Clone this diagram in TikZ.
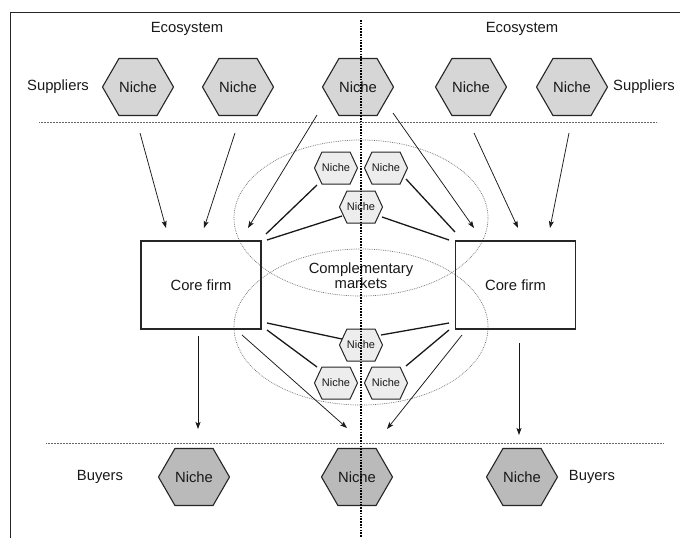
\documentclass[tikz,border=0pt]{standalone}
\usepackage{fontspec}
\setmainfont{Liberation Sans}
\usetikzlibrary{shapes.symbols,arrows.meta}
\begin{document}
\begin{tikzpicture}[x=1pt,y=-1pt,
  hexbase/.style={signal, signal to=east and west, draw=black!85, inner sep=0pt, text=black!90},
  hexbig/.style={hexbase, signal pointer angle=120, line width=1.1pt, minimum width=71pt, minimum height=57pt, font=\fontsize{14.8}{16}\selectfont},
  suphex/.style={hexbig, fill=black!16},
  buyhex/.style={hexbig, fill=black!27},
  hexsmall/.style={hexbase, signal pointer angle=130, line width=1pt, fill=black!7, minimum width=38pt, minimum height=32pt, font=\fontsize{11}{12}\selectfont},
  firmbox/.style={draw=black!85, line width=1.4pt, minimum width=120pt, minimum height=88pt, inner sep=0pt, font=\fontsize{14.8}{16}\selectfont, text=black!90},
  lbl/.style={font=\fontsize{14.8}{16}\selectfont, text=black!90, inner sep=0pt, align=center},
  arr/.style={line width=0.75pt, draw=black!90, -{Stealth[length=7pt,width=5pt,inset=1.5pt]}},
  link/.style={line width=1.3pt, draw=black!90},
  hdot/.style={line width=0.8pt, draw=black!60, dash pattern=on 0.8pt off 0.7pt},
  vdot/.style={line width=1.8pt, draw=black, dash pattern=on 1.5pt off 1.3pt},
  elldot/.style={line width=0.7pt, draw=black!55, dash pattern=on 0.8pt off 1pt}
]
\useasboundingbox (0,0) rectangle (680,538);
\fill[white] (0,0) rectangle (680,538);

% frame
\coordinate (fa) at (10,12);
\coordinate (fb) at (680,12);
\coordinate (fc) at (10,538);
\draw[line width=1pt, black!85] (fb) -- (fa) -- (fc);

% ellipses
\draw[elldot] (361,218) ellipse [x radius=127pt, y radius=78pt];
\draw[elldot] (361,327) ellipse [x radius=127pt, y radius=78pt];

% horizontal dotted lines
\coordinate (h1a) at (39,122); \coordinate (h1b) at (657,122);
\coordinate (h2a) at (46,443); \coordinate (h2b) at (663,443);
\draw[hdot] (h1a) -- (h1b);
\draw[hdot] (h2a) -- (h2b);

% labels
\node[lbl] (eco1) at (187,29) {Ecosystem};
\node[lbl] (eco2) at (522,29) {Ecosystem};
\node[lbl] (sup1) at (58,87) {Suppliers};
\node[lbl] (sup2) at (644,87) {Suppliers};
\node[lbl] (buy1) at (100,477) {Buyers};
\node[lbl] (buy2) at (592,477) {Buyers};
\node[lbl] (comp) at (361,276) {Complementary\\[-1pt]markets};

% supplier niches
\node[suphex] (s1) at (138,87) {Niche};
\node[suphex] (s2) at (238,87) {Niche};
\node[suphex] (s3) at (358,87) {Niche};
\node[suphex] (s4) at (471,87) {Niche};
\node[suphex] (s5) at (572,87) {Niche};

% buyer niches
\node[buyhex] (b1) at (194,477) {Niche};
\node[buyhex] (b2) at (357,477) {Niche};
\node[buyhex] (b3) at (522,477) {Niche};

% complementary niches
\node[hexsmall] (c1) at (336,168) {Niche};
\node[hexsmall] (c2) at (386,168) {Niche};
\node[hexsmall] (c3) at (361,207) {Niche};
\node[hexsmall] (c4) at (361,345) {Niche};
\node[hexsmall] (c5) at (336,383) {Niche};
\node[hexsmall] (c6) at (386,383) {Niche};

% core firms
\node[firmbox] (f1) at (201,285) {Core firm};
\node[firmbox] (f2) at (515.5,285) {Core firm};

% arrow end points
\coordinate (a1s) at (140,133); \coordinate (a1e) at (166,228);
\coordinate (a2s) at (235,133); \coordinate (a2e) at (204,228);
\coordinate (a3s) at (317,115); \coordinate (a3e) at (248,228);
\coordinate (a4s) at (393,113); \coordinate (a4e) at (474,228);
\coordinate (a5s) at (474,133); \coordinate (a5e) at (518,228);
\coordinate (a6s) at (569,133); \coordinate (a6e) at (550,228);
\coordinate (d1s) at (198,336); \coordinate (d1e) at (198,429);
\coordinate (d2s) at (242,335); \coordinate (d2e) at (347,428);
\coordinate (d3s) at (462,335); \coordinate (d3e) at (387,429);
\coordinate (d4s) at (519,343); \coordinate (d4e) at (519,435);

\draw[arr] (a1s) -- (a1e);
\draw[arr] (a2s) -- (a2e);
\draw[arr] (a3s) -- (a3e);
\draw[arr] (a4s) -- (a4e);
\draw[arr] (a5s) -- (a5e);
\draw[arr] (a6s) -- (a6e);
\draw[arr] (d1s) -- (d1e);
\draw[arr] (d2s) -- (d2e);
\draw[arr] (d3s) -- (d3e);
\draw[arr] (d4s) -- (d4e);

% links
\coordinate (l1s) at (317,185); \coordinate (l1e) at (266,234);
\coordinate (l2s) at (342,216); \coordinate (l2e) at (267,240);
\coordinate (l3s) at (406,179); \coordinate (l3e) at (455,232);
\coordinate (l4s) at (382,217); \coordinate (l4e) at (449,240);
\coordinate (l5s) at (267,323); \coordinate (l5e) at (342,339);
\coordinate (l6s) at (267,330); \coordinate (l6e) at (317,367);
\coordinate (l7s) at (381,335); \coordinate (l7e) at (449,323);
\coordinate (l8s) at (406,366); \coordinate (l8e) at (449,330);
\draw[link] (l1s) -- (l1e);
\draw[link] (l2s) -- (l2e);
\draw[link] (l3s) -- (l3e);
\draw[link] (l4s) -- (l4e);
\draw[link] (l5s) -- (l5e);
\draw[link] (l6s) -- (l6e);
\draw[link] (l7s) -- (l7e);
\draw[link] (l8s) -- (l8e);

% vertical dotted line
\coordinate (va) at (361,20); \coordinate (vb) at (361,538);
\draw[vdot] (va) -- (vb);
\end{tikzpicture}
\end{document}
